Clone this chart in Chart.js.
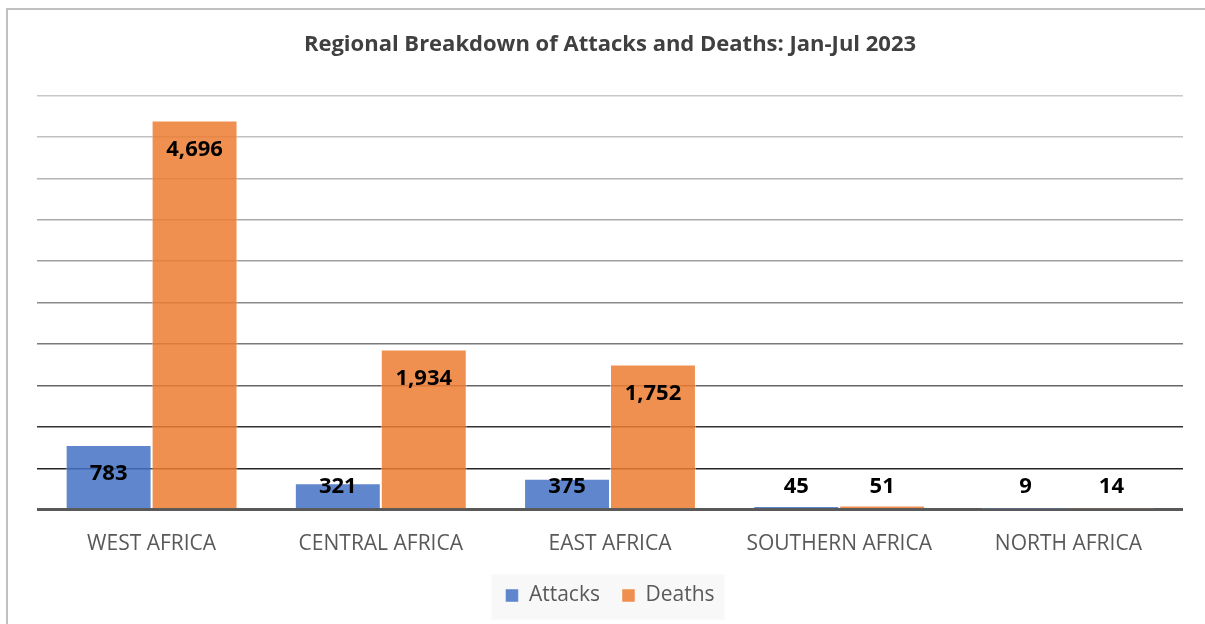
<!DOCTYPE html>
<html>
<head>
<meta charset="utf-8">
<script src="https://cdn.jsdelivr.net/npm/chart.js@4.4.0/dist/chart.umd.min.js"></script>
<style>
html,body{margin:0;padding:0;background:#fff;width:1205px;height:624px;overflow:hidden;}
#wrap{position:absolute;left:0;top:0;width:1205px;height:624px;}
</style>
</head>
<body>
<div id="wrap"><canvas id="c" width="1205" height="624"></canvas></div>
<script>
const categories = ["WEST AFRICA", "CENTRAL AFRICA", "EAST AFRICA", "SOUTHERN AFRICA", "NORTH AFRICA"];
const attacks = [783, 321, 375, 45, 9];
const deaths = [4696, 1934, 1752, 51, 14];
const seriesNames = ["Attacks", "Deaths"];
const chartTitle = "Regional Breakdown of Attacks and Deaths: Jan-Jul 2023";

const gridColors = ["#595959", "#262626", "#333333", "#666666", "#7a7a7a", "#8a8a8a", "#a0a0a0", "#aaaaaa", "#b4b4b4", "#c0c0c0", "#c8c8c8"];

const framePlugin = {
  id: 'frame',
  beforeDraw(chart) {
    const ctx = chart.ctx;
    ctx.save();
    ctx.fillStyle = '#ffffff';
    ctx.fillRect(0, 0, chart.width, chart.height);
    ctx.fillStyle = '#c0c0c0';
    ctx.fillRect(6, 8, chart.width - 6, 2);
    ctx.fillRect(6, 8, 2, chart.height - 8);
    const lg = chart.legend;
    if (lg && lg.legendHitBoxes && lg.legendHitBoxes.length) {
      const hb = lg.legendHitBoxes;
      const l = hb[0].left - 14, r = hb[hb.length - 1].left + hb[hb.length - 1].width + 10;
      const cy = hb[0].top + hb[0].height / 2;
      ctx.fillStyle = '#f8f8f8';
      ctx.fillRect(l, cy - 21, r - l, 45);
    }
    ctx.restore();
  }
};

const labelPlugin = {
  id: 'barLabels',
  afterDatasetsDraw(chart) {
    const ctx = chart.ctx;
    const yScale = chart.scales.y;
    const base = yScale.getPixelForValue(0);
    ctx.save();
    ctx.font = 'bold 22px "Open Sans", sans-serif';
    ctx.fillStyle = '#000000';
    ctx.textAlign = 'center';
    ctx.textBaseline = 'middle';
    chart.data.datasets.forEach((ds, di) => {
      const meta = chart.getDatasetMeta(di);
      meta.data.forEach((bar, i) => {
        const y = Math.min(bar.y + 29, base - 23);
        ctx.fillText(ds.data[i].toLocaleString('en-US'), bar.x, y);
      });
    });
    ctx.restore();
  }
};

new Chart(document.getElementById('c'), {
  type: 'bar',
  data: {
    labels: categories,
    datasets: [
      {
        label: seriesNames[0],
        data: attacks,
        backgroundColor: 'rgba(68,114,196,0.85)',
        borderColor: 'rgba(255,255,255,0.45)',
        borderWidth: 1,
        categoryPercentage: 0.75,
        barPercentage: 1.0
      },
      {
        label: seriesNames[1],
        data: deaths,
        backgroundColor: 'rgba(237,125,49,0.85)',
        borderColor: 'rgba(255,255,255,0.45)',
        borderWidth: 1,
        categoryPercentage: 0.75,
        barPercentage: 1.0
      }
    ]
  },
  options: {
    responsive: false,
    animation: false,
    devicePixelRatio: 1,
    layout: { padding: { left: 37, right: 22, top: 10, bottom: 8 } },
    plugins: {
      title: {
        display: true,
        text: chartTitle,
        color: '#404040',
        font: { family: '"Open Sans", sans-serif', size: 22, weight: 'bold' },
        padding: { top: 22, bottom: 37 }
      },
      legend: {
        position: 'bottom',
        labels: {
          color: '#595959',
          font: { family: '"Open Sans", sans-serif', size: 21 },
          boxWidth: 13,
          boxHeight: 13,
          padding: 22
        }
      },
      tooltip: { enabled: false }
    },
    scales: {
      x: {
        grid: { display: false, drawTicks: false },
        border: { display: false },
        afterFit(scale) { scale.height -= 16; },
        ticks: {
          color: '#595959',
          font: { family: '"Open Sans", sans-serif', size: 21 },
          padding: 22,
          maxRotation: 0
        }
      },
      y: {
        min: 0,
        max: 5000,
        ticks: { display: false, stepSize: 500 },
        border: { display: false },
        grid: {
          drawTicks: false,
          color: (c) => gridColors[c.index] || '#c8c8c8',
          lineWidth: (c) => c.index === 0 ? 3 : 1.5
        }
      }
    }
  },
  plugins: [framePlugin, labelPlugin]
});
</script>
</body>
</html>
